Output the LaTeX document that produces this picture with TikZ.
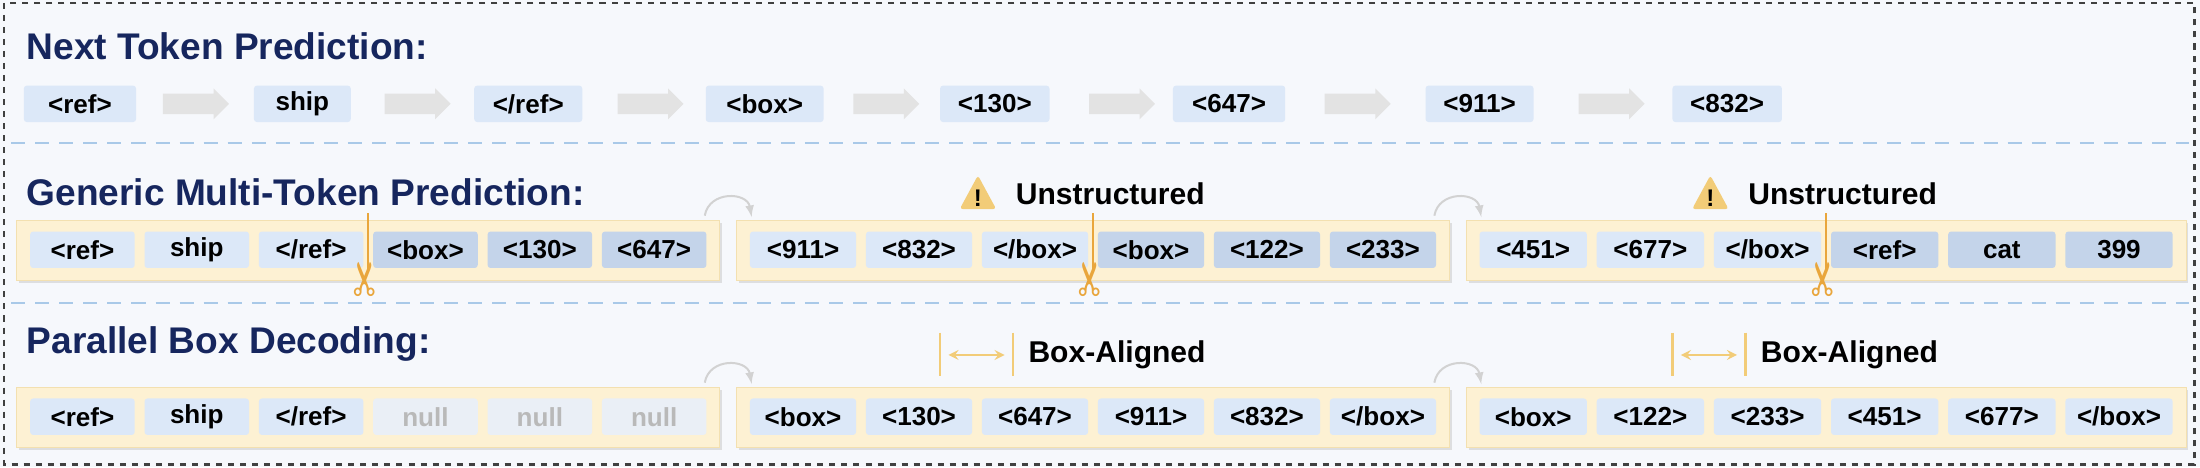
\documentclass[tikz,border=0pt]{standalone}
\usepackage{fontspec}
\setmainfont{Liberation Sans}
\newfontfamily\symfont{DejaVu Sans}
\usetikzlibrary{shapes.arrows, shadows, calc}

\definecolor{bgcol}{HTML}{F6F8FC}
\definecolor{sepcol}{HTML}{A9C9E8}
\definecolor{titlecol}{HTML}{16265E}
\definecolor{toklight}{HTML}{DCE8F8}
\definecolor{tokdark}{HTML}{C4D4EA}
\definecolor{toknull}{HTML}{EAEFF6}
\definecolor{framefill}{HTML}{FDF1D3}
\definecolor{framedraw}{HTML}{F3E0B0}
\definecolor{cutcol}{HTML}{E9A63C}
\definecolor{aligncol}{HTML}{F2CC78}

\tikzset{
	title/.style = {anchor = west, text = titlecol, font = \fontsize{18.5}{20}\selectfont\bfseries},
	tok/.style = {fill = toklight, rounded corners = 1.5pt, minimum height = 26*0.7pt, inner sep = 0pt, font = \fontsize{13}{15}\selectfont\bfseries},
	frame/.style = {fill = framefill, draw = framedraw, minimum height = 43*0.7pt, inner sep = 0pt,
		drop shadow = {shadow xshift = 1.2pt, shadow yshift = -1.2pt, fill = gray!45}},
	nextarrow/.style = {single arrow, fill = gray!22, draw = none, minimum height = 47*0.7pt, minimum width = 22*0.7pt,
		single arrow head extend = 2.5pt, single arrow head indent = 0pt, inner sep = 4.8pt},
	note/.style = {anchor = west, font = \fontsize{15}{17}\selectfont\bfseries},
	hop/.style = {->, >= latex, gray!35, line width = 1pt},
	sep/.style = {sepcol, dashed, dash pattern = on 7pt off 5pt, line width = 0.8pt}
}

\begin{document}
\begin{tikzpicture}[x = 0.7pt, y = 0.7pt]

	% Background and frame
	
	\fill [bgcol] (0, 0) rectangle (1568, -333);
	\useasboundingbox (0, 0) rectangle (1568, -333);
	\draw [black!75, dashed, line width = 1.2pt] (3, -2) rectangle (1564, -331);
	\draw [sep] (8, -102) -- (1560, -102);
	\draw [sep] (8, -216) -- (1560, -216);
	
	% Next token prediction
	
	\node [title] (t1) at (14, -33) {Next Token Prediction:};
	
	\foreach \t/\c/\w [count = \i] in {{<ref>}/57/80, ship/215.5/69, {</ref>}/376.5/77, {<box>}/545/84,
		{<130>}/709/78, {<647>}/876/80, {<911>}/1054.5/77, {<832>}/1231/78}
		\node [tok, minimum width = \w*0.7pt] (n\i) at (\c, -74) {\t};
	
	\foreach \c [count = \i] in {136, 294, 460, 628, 796, 964, 1145}
		\node [nextarrow] (s\i) at (\c, -74) {};
	
	% Generic multi-token prediction
	
	\node [title] (t2) at (14, -137) {Generic Multi-Token Prediction:};
	
	\foreach \l/\r [count = \f] in {12/513, 525/1033, 1045/1558}
		\node [frame, minimum width = {(\r - \l)*0.7pt}] (g\f) at ({(\l + \r)/2}, -178.5) {};
	
	\foreach \l/\r/\f/\list in {12/513/1/{{<ref>},ship,{</ref>},{<box>},{<130>},{<647>}},
		525/1033/2/{{<911>},{<832>},{</box>},{<box>},{<122>},{<233>}},
		1045/1558/3/{{<451>},{<677>},{</box>},{<ref>},cat,399}}
	{
		\foreach \t [count = \i] in \list
		{
			\pgfmathsetmacro{\tc}{ifthenelse(\i > 3, "tokdark", "toklight")}
			\node [tok, fill = \tc, minimum width = {((\r - \l - 12)/6 - 7)*0.7pt}] (g\f t\i)
				at ({\l + 6 + (\i - 0.5)*(\r - \l - 12)/6}, -178) {\t};
		}
		\coordinate (c\f) at ($(g\f t3.east)!0.5!(g\f t4.west)$);
		\draw [cutcol, line width = 0.9pt] (c\f |- 0, -152) -- (c\f |- 0, -192);
		\node [cutcol, rotate = 90, inner sep = 0pt, scale = 2.3, font = \symfont] (x\f) at (c\f |- 0, -199) {✂};
	}
	
	\foreach \f/\x in {2/697, 3/1219}
	{
		\fill [aligncol, rounded corners = 1.5pt] (\x - 13, -149) -- (\x, -125) -- (\x + 13, -149) -- cycle;
		\node [font = \fontsize{12}{12}\selectfont\bfseries, inner sep = 0pt] (w\f) at (\x, -141) {!};
		\node [note] (u\f) at (\x + 22, -138) {Unstructured};
	}
	
	\draw [hop] ($(g1.north east) + (-11, 3)$) to [out = 80, in = 100, looseness = 1.4] ($(g2.north west) + (11, 2)$);
	\draw [hop] ($(g2.north east) + (-11, 3)$) to [out = 80, in = 100, looseness = 1.4] ($(g3.north west) + (11, 2)$);
	
	% Parallel box decoding
	
	\node [title] (t3) at (14, -245) {Parallel Box Decoding:};
	
	\foreach \l/\r [count = \f] in {12/513, 525/1033, 1045/1558}
		\node [frame, minimum width = {(\r - \l)*0.7pt}] (p\f) at ({(\l + \r)/2}, -297.5) {};
	
	\foreach \t [count = \i] in {{<ref>}, ship, {</ref>}}
		\node [tok, minimum width = {((501 - 12)/6 - 7)*0.7pt}] (p1t\i) at ({18 + (\i - 0.5)*489/6}, -297) {\t};
	\foreach \i in {4, 5, 6}
		\node [tok, fill = toknull, text = gray!55, minimum width = {((501 - 12)/6 - 7)*0.7pt}] (p1t\i) at ({18 + (\i - 0.5)*489/6}, -297) {null};
	
	\foreach \l/\r/\f/\list in {525/1033/2/{{<box>},{<130>},{<647>},{<911>},{<832>},{</box>}},
		1045/1558/3/{{<box>},{<122>},{<233>},{<451>},{<677>},{</box>}}}
	{
		\foreach \t [count = \i] in \list
			\node [tok, minimum width = {((\r - \l - 12)/6 - 7)*0.7pt}] (p\f t\i)
				at ({\l + 6 + (\i - 0.5)*(\r - \l - 12)/6}, -297) {\t};
	}
	
	\foreach \f/\x in {2/670, 3/1192}
	{
		\draw [aligncol, line width = 1.2pt] (\x, -237) -- (\x, -268);
		\draw [aligncol, line width = 1.2pt] (\x + 52, -237) -- (\x + 52, -268);
		\draw [aligncol, line width = 1.2pt, <->, >= stealth] (\x + 6, -253) -- (\x + 46, -253);
		\node [note] (b\f) at (\x + 58, -253) {Box-Aligned};
	}
	
	\draw [hop] ($(p1.north east) + (-11, 3)$) to [out = 80, in = 100, looseness = 1.4] ($(p2.north west) + (11, 2)$);
	\draw [hop] ($(p2.north east) + (-11, 3)$) to [out = 80, in = 100, looseness = 1.4] ($(p3.north west) + (11, 2)$);
	
\end{tikzpicture}
\end{document}
